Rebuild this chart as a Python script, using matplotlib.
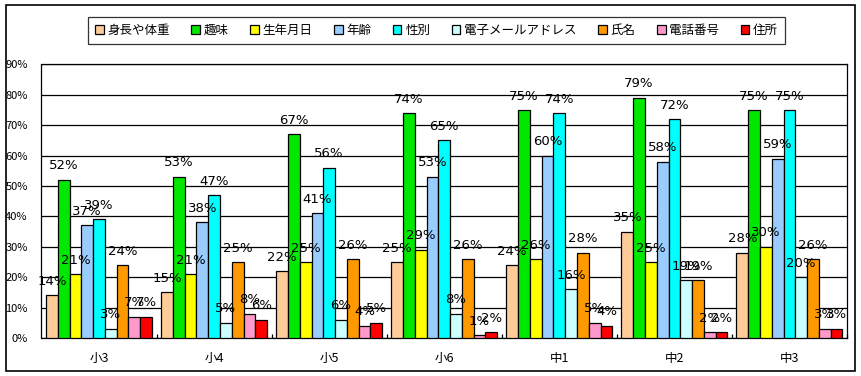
import numpy as np
import matplotlib
matplotlib.use('Agg')
import matplotlib.pyplot as plt
from matplotlib.patches import Rectangle
from matplotlib.ticker import PercentFormatter

plt.rcParams['font.family'] = ['Noto Sans CJK JP', 'DejaVu Sans']

grades = ['小3', '小4', '小5', '小6', '中1', '中2', '中3']
items = ['身長や体重', '趣味', '生年月日', '年齢', '性別',
         '電子メールアドレス', '氏名', '電話番号', '住所']
colors = ['#FFCC99', '#00E800', '#FFFF00', '#99CCFF', '#00FFFF',
          '#CCFFFF', '#FF9900', '#FF99CC', '#FF0000']

height_weight = [14, 15, 22, 25, 24, 35, 28]
hobby = [52, 53, 67, 74, 75, 79, 75]
birthday = [21, 21, 25, 29, 26, 25, 30]
age = [37, 38, 41, 53, 60, 58, 59]
sex = [39, 47, 56, 65, 74, 72, 75]
email = [3, 5, 6, 8, 16, 19, 20]
name = [24, 25, 26, 26, 28, 19, 26]
phone = [7, 8, 4, 1, 5, 2, 3]
address = [7, 6, 5, 2, 4, 2, 3]

series = [height_weight, hobby, birthday, age, sex, email, name, phone, address]

W, H = 862, 376
fig = plt.figure(figsize=(W / 100, H / 100), dpi=100)
ax = fig.add_axes([41.5 / W, 1 - 338 / H, (847 - 41.5) / W, (338 - 64.3) / H])

# outer frame around the whole chart
fig.patches.append(Rectangle((6 / W, 1 - 371 / H), 849 / W, 366 / H,
                             transform=fig.transFigure, fill=False,
                             edgecolor='black', linewidth=1.2))

x = np.arange(len(grades))
bw = 0.1023
handles = []
for k, (vals, col, lab) in enumerate(zip(series, colors, items)):
    pos = x + (k - 4) * bw
    bars = ax.bar(pos, vals, width=bw, color=col, edgecolor='black',
                  linewidth=0.9, label=lab, zorder=3)
    handles.append(bars)
    for px, v in zip(pos, vals):
        ax.annotate(f'{v}%', (px, v), xytext=(0, 10), textcoords='offset points',
                    ha='center', va='center', fontsize=9.5,
                    family=['Liberation Sans Narrow', 'DejaVu Sans'], zorder=5)

ax.set_ylim(0, 90)
ax.set_xlim(-0.5, 6.5)
ax.set_yticks(range(0, 91, 10))
ax.yaxis.set_major_formatter(PercentFormatter(100, decimals=0))
ax.tick_params(axis='y', length=0, pad=10, labelsize=8)
ax.grid(axis='y', color='black', linewidth=0.9, zorder=1)

ax.set_xticks(x + 0.5)
ax.set_xticklabels([])
ax.tick_params(axis='x', which='major', direction='in', length=3, width=0.9)
ax.set_xticks(x, minor=True)
ax.set_xticklabels(grades, minor=True, fontsize=9)
ax.tick_params(axis='x', which='minor', length=0, pad=10)

for s in ax.spines.values():
    s.set_linewidth(0.9)

leg = fig.legend(handles=handles, loc='upper left',
                 bbox_to_anchor=(88 / W, 1 - 17 / H, 697 / W, 0),
                 mode='expand', ncol=9, fontsize=9,
                 handlelength=0.7, handleheight=0.7, handletextpad=0.3,
                 frameon=True, fancybox=False,
                 borderpad=0.55, borderaxespad=0)
leg.get_frame().set_edgecolor('black')
leg.get_frame().set_linewidth(0.9)

fig.savefig('out.png', dpi=100)
